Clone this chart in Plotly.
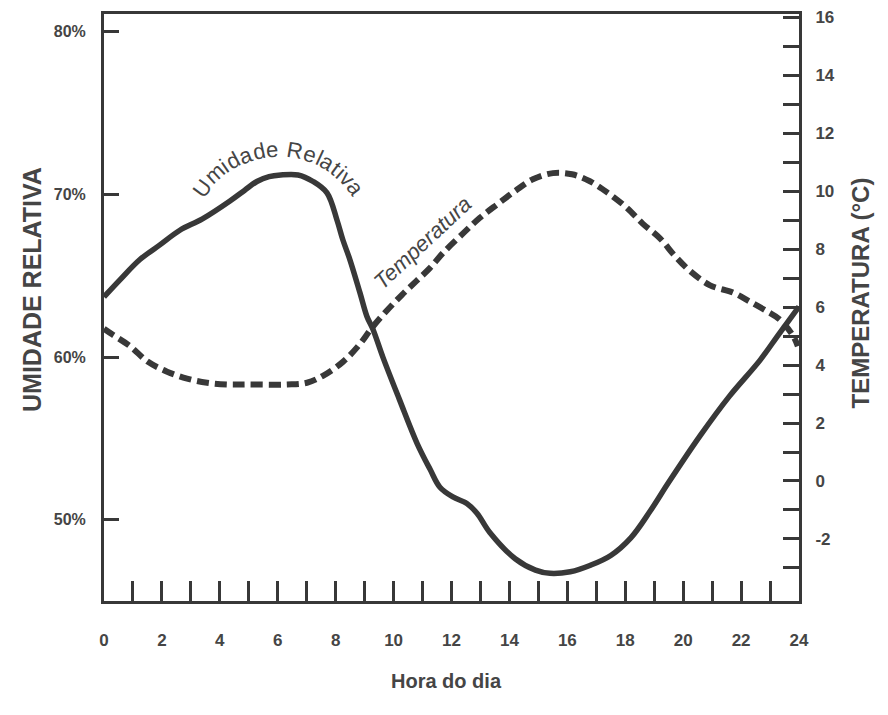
import math
import plotly.graph_objects as go

# hora do dia e umidade relativa (%)
horas_ur = [0, 0.55, 1.24, 1.93, 2.62, 3.4, 4.35, 4.85, 5.28, 5.7, 6.1, 6.7, 7.22, 7.7,
            8.05, 8.25, 8.49, 8.84, 9.08, 9.29, 9.63, 10.2, 10.81, 11.26, 11.6, 12.05,
            12.53, 12.88, 13.33, 14.2, 14.9, 15.4, 16.1, 16.8, 17.5, 18.2, 18.85, 19.5,
            20.6, 21.6, 22.65, 23.3, 24.0]
umidade = [63.7, 64.75, 66.0, 66.9, 67.8, 68.5, 69.6, 70.25, 70.8, 71.1, 71.2, 71.2, 70.8, 70.1,
           68.4, 67.2, 66.0, 63.95, 62.5, 61.7, 60.0, 57.4, 54.7, 53.1, 52.0, 51.4,
           51.0, 50.4, 49.2, 47.6, 46.9, 46.7, 46.8, 47.2, 47.8, 48.9, 50.5, 52.3,
           55.2, 57.6, 59.8, 61.4, 63.1]

# hora do dia e temperatura (°C)
horas_t = [0, 0.28, 0.9, 1.52, 2.18, 2.87, 3.56, 4.25, 4.94, 6.32, 7.01, 7.56, 8.25, 8.8,
           9.25, 9.77, 10.29, 10.81, 11.26, 11.7, 12.4, 12.98, 13.6, 14.19, 14.81, 15.5,
           16.16, 16.78, 17.4, 18.06, 18.6, 19.2, 19.7, 20.23, 20.93, 21.72, 22.3, 22.9,
           23.34, 23.8, 23.96]
temperatura = [5.25, 5.06, 4.65, 4.11, 3.77, 3.53, 3.39, 3.33, 3.33, 3.33, 3.39, 3.63, 4.11, 4.68,
               5.28, 5.88, 6.42, 6.92, 7.35, 7.86, 8.54, 9.08, 9.56, 10.0, 10.41, 10.62,
               10.58, 10.34, 9.94, 9.42, 8.88, 8.37, 7.78, 7.25, 6.75, 6.5, 6.19, 5.85,
               5.57, 5.0, 4.65]

horas_ticks = list(range(0, 25))
horas_txt = [str(h) if h % 2 == 0 else '' for h in horas_ticks]
ur_ticks = [50, 60, 70, 80]
ur_txt = ['50%', '60%', '70%', '80%']
t_ticks = list(range(-3, 17))
t_txt = [str(t) if t % 2 == 0 else '' for t in t_ticks]

COR = '#383838'
TXT = '#454545'
FONTE = 'Liberation Sans, Arial, sans-serif'

# a página desloca a figura 8px; posições abaixo já estão descontadas
OFF = 8
W, H = 888 - OFF, 715 - OFF
L, R, T, B = 104 - OFF, 89, 14 - OFF, 114

fig = go.Figure()
fig.add_trace(go.Scatter(x=horas_ur, y=umidade, mode='lines', line_shape='spline',
                         line=dict(color=COR, width=5.5), yaxis='y', showlegend=False))
fig.add_trace(go.Scatter(x=horas_t, y=temperatura, mode='lines', line_shape='spline',
                         line=dict(color=COR, width=6, dash='12px,6px'), yaxis='y2',
                         showlegend=False))


def px2paper(px, py):
    # px, py em pixels da imagem de referência
    return (px - OFF - L) / (W - L - R), (H - B - (py - OFF)) / (H - T - B)


anns = []
# "Umidade Relativa" escrito ao longo de um arco
texto = 'Umidade Relativa'
larg = {'U': .72, 'm': .83, 'i': .22, 'd': .56, 'a': .56, 'e': .56, ' ': .28,
        'R': .72, 'l': .22, 't': .28, 'v': .5}
cx, cy, raio = 279, 244, 95
ang0 = math.radians(54)
centros = []
s = 0
for ch in texto:
    centros.append(s + larg[ch] / 2)
    s += larg[ch]
for ch, c in zip(texto, centros):
    if ch == ' ':
        continue
    f = (c - centros[0]) / (centros[-1] - centros[0])
    phi = -ang0 + f * 2 * ang0
    xp, yp = px2paper(cx + raio * math.sin(phi), cy - raio * math.cos(phi))
    anns.append(dict(x=xp, y=yp, xref='paper', yref='paper', text=ch, showarrow=False,
                     textangle=math.degrees(phi), xanchor='center', yanchor='middle',
                     font=dict(family=FONTE, size=22, color=TXT)))

xp, yp = px2paper(423, 243)
anns.append(dict(x=xp, y=yp, xref='paper', yref='paper', text='<i>Temperatura</i>',
                 showarrow=False, textangle=-43, xanchor='center', yanchor='middle',
                 font=dict(family=FONTE, size=22, color=TXT)))

# títulos dos eixos
xp, yp = px2paper(16, 290)
anns.append(dict(x=xp, y=yp, xref='paper', yref='paper', text='<b>UMIDADE RELATIVA</b>',
                 showarrow=False, textangle=-90, font=dict(family=FONTE, size=25, color=TXT)))
xp, yp = px2paper(875, 293)
anns.append(dict(x=xp, y=yp, xref='paper', yref='paper', text='<b>TEMPERATURA (°C)</b>',
                 showarrow=False, textangle=-90, font=dict(family=FONTE, size=24, color=TXT)))
xp, yp = px2paper(446, 694)
anns.append(dict(x=xp, y=yp, xref='paper', yref='paper', text='<b>Hora do dia</b>',
                 showarrow=False, font=dict(family=FONTE, size=20, color=TXT)))

eixo = dict(showgrid=False, zeroline=False, showline=True, linecolor=COR, linewidth=3,
            ticks='inside', tickcolor=COR, tickwidth=3, automargin=False)

fig.update_layout(
    width=W, height=H,
    margin=dict(l=L, r=R, t=T, b=B, autoexpand=False),
    paper_bgcolor='white', plot_bgcolor='white',
    xaxis=dict(eixo, range=[0, 24], tickvals=horas_ticks, ticktext=horas_txt, ticklen=20,
               mirror=True, ticklabelstandoff=22,
               tickfont=dict(family=FONTE, size=17, color=TXT, weight='bold')),
    yaxis=dict(eixo, range=[45, 81.1], tickvals=ur_ticks, ticktext=ur_txt, ticklen=15,
               ticklabelstandoff=12,
               tickfont=dict(family=FONTE, size=16, color=TXT, weight='bold')),
    yaxis2=dict(eixo, range=[-4.14, 16.11], tickvals=t_ticks, ticktext=t_txt, ticklen=16,
                overlaying='y', side='right', ticklabelstandoff=10,
                tickfont=dict(family=FONTE, size=17, color=TXT, weight='bold')),
    annotations=anns,
)

fig.write_html('out.html')
